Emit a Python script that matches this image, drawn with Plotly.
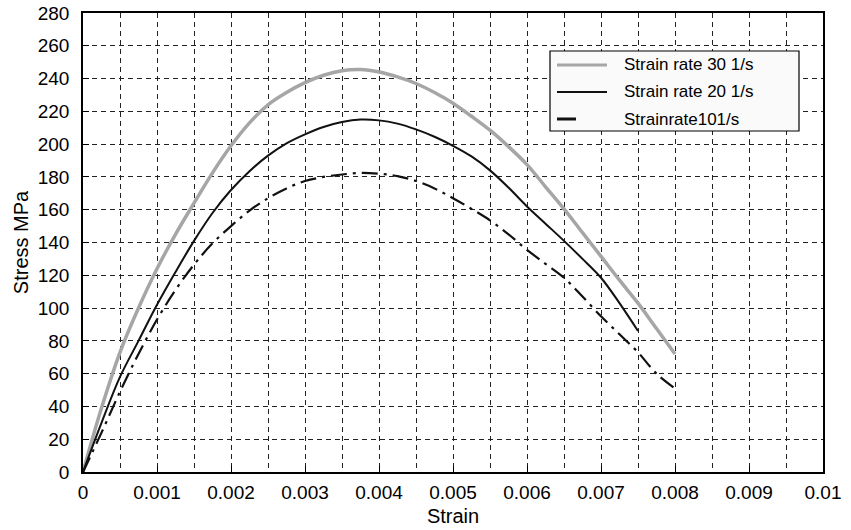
import plotly.graph_objects as go

# Strain rate 30 1/s
strain30 = [0, 0.00025, 0.0005, 0.00075, 0.001, 0.00125, 0.0015, 0.00175, 0.002, 0.00225,
            0.0025, 0.00275, 0.003, 0.00325, 0.0035, 0.00375, 0.004, 0.00425, 0.0045, 0.00475,
            0.005, 0.00525, 0.0055, 0.00575, 0.006, 0.00625, 0.0065, 0.00675, 0.007, 0.00725,
            0.0075, 0.00775, 0.008]
stress30 = [0, 39, 73, 100, 124, 145, 164, 182.5, 199, 213,
            224, 231.5, 237.5, 242, 244.8, 245.5, 244, 241, 237, 231.5,
            225, 217, 208.5, 198.5, 187.5, 174, 160.5, 146, 131.5, 117,
            103, 87.5, 72]

# Strain rate 20 1/s
strain20 = [0, 0.00025, 0.0005, 0.00075, 0.001, 0.00125, 0.0015, 0.00175, 0.002, 0.00225,
            0.0025, 0.00275, 0.003, 0.00325, 0.0035, 0.00375, 0.004, 0.00425, 0.0045, 0.00475,
            0.005, 0.00525, 0.0055, 0.00575, 0.006, 0.00625, 0.0065, 0.00675, 0.007, 0.00725,
            0.0075]
stress20 = [0, 30, 58, 80, 102, 122, 141, 158, 172, 183.5,
            193, 200.5, 206, 210.5, 213.5, 215, 214.5, 212.5, 209, 204.5,
            199, 192.5, 184, 173.5, 162, 151.5, 141, 130, 118.5, 103,
            86]

# Strain rate 10 1/s
strain10 = [0, 0.00025, 0.0005, 0.00075, 0.001, 0.00125, 0.0015, 0.00175, 0.002, 0.00225,
            0.0025, 0.00275, 0.003, 0.00325, 0.0035, 0.00375, 0.004, 0.00425, 0.0045, 0.00475,
            0.005, 0.00525, 0.0055, 0.00575, 0.006, 0.00625, 0.0065, 0.00675, 0.007, 0.00725,
            0.0075, 0.00775, 0.008]
stress10 = [0, 24, 49, 72, 93, 111, 126.5, 139.5, 150, 159.5,
            167, 173, 177.5, 180, 181.5, 182.5, 182, 180.5, 177.5, 173,
            167, 160.5, 153.5, 145, 135.5, 127, 118.5, 107, 95, 84,
            73, 60, 51]

series_names = ["Strain rate 30 1/s", "Strain rate 20 1/s", "Strainrate101/s"]

x_ticks = [0, 0.001, 0.002, 0.003, 0.004, 0.005, 0.006, 0.007, 0.008, 0.009, 0.01]
x_tick_labels = ["0", "0.001", "0.002", "0.003", "0.004", "0.005", "0.006",
                 "0.007", "0.008", "0.009", "0.01"]
y_ticks = list(range(0, 281, 20))

font = "Liberation Sans, Arial, Helvetica, sans-serif"
W, H = 851, 530
ML, MR, MT, MB = 83, 28, 13, 58

GREY = "#a6a6a6"
BLACK = "#111111"
DASHDOT = "16px,6px,3px,6px"

fig = go.Figure()
fig.add_trace(go.Scatter(x=strain30, y=stress30, mode="lines", name=series_names[0],
                         line=dict(color=GREY, width=3.5, shape="spline", smoothing=1.0)))
fig.add_trace(go.Scatter(x=strain20, y=stress20, mode="lines", name=series_names[1],
                         line=dict(color=BLACK, width=2, shape="spline", smoothing=1.0)))
fig.add_trace(go.Scatter(x=strain10, y=stress10, mode="lines", name=series_names[2],
                         line=dict(color=BLACK, width=2.2, shape="spline", smoothing=1.0,
                                   dash=DASHDOT)))

# --- manual legend box (pixel positions converted to paper coordinates) ---
pw, ph = W - ML - MR, H - MT - MB
def px(x):
    return (x - ML) / pw
def py(y):
    return (H - MB - y) / ph

shapes = [dict(type="rect", xref="paper", yref="paper",
               x0=px(550), x1=px(799), y0=py(51), y1=py(131),
               line=dict(color="black", width=1.2), fillcolor="#fafafa", layer="above")]
samples = [
    dict(x0=557, x1=607, color=GREY, width=3, dash="solid"),
    dict(x0=557, x1=607, color=BLACK, width=2.2, dash="solid"),
    dict(x0=557, x1=576, color=BLACK, width=3, dash="solid"),
]
rows = [65, 92, 119]
annotations = []
for s, yy, name in zip(samples, rows, series_names):
    shapes.append(dict(type="line", xref="paper", yref="paper",
                       x0=px(s["x0"]), x1=px(s["x1"]), y0=py(yy), y1=py(yy),
                       line=dict(color=s["color"], width=s["width"], dash=s["dash"]),
                       layer="above"))
    annotations.append(dict(xref="paper", yref="paper", x=px(622), y=py(yy),
                            xanchor="left", yanchor="middle", text=name, showarrow=False,
                            font=dict(family=font, size=17, color="black")))

fig.update_layout(
    width=W, height=H,
    margin=dict(l=ML, r=MR, t=MT, b=MB),
    paper_bgcolor="white", plot_bgcolor="white",
    font=dict(family=font, size=19, color="black"),
    showlegend=False,
    shapes=shapes,
    annotations=annotations,
    xaxis=dict(range=[0, 0.01], tickvals=x_ticks, ticktext=x_tick_labels,
               ticks="inside", ticklen=6, tickcolor="black",
               showline=True, linecolor="black", linewidth=1.5, mirror=True,
               zeroline=False, automargin=False, ticklabelstandoff=2,
               tickfont=dict(size=19),
               title=dict(text="Strain", font=dict(size=20), standoff=7),
               showgrid=False,
               minor=dict(dtick=0.0005, tick0=0, showgrid=True, gridcolor="#222222",
                          gridwidth=1, griddash="5px,4px")),
    yaxis=dict(range=[0, 280], tickvals=y_ticks,
               ticks="inside", ticklen=6, tickcolor="black",
               showline=True, linecolor="black", linewidth=1.5, mirror=True,
               zeroline=False, automargin=False, ticklabelstandoff=8,
               tickfont=dict(size=19),
               title=dict(text="Stress MPa", font=dict(size=20), standoff=4),
               showgrid=True, gridcolor="#222222", gridwidth=1, griddash="5px,4px"),
)

fig.write_html("out.html")
